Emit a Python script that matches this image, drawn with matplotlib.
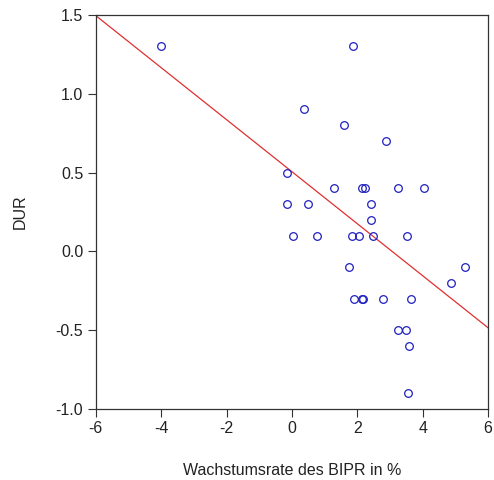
import numpy as np
import matplotlib.pyplot as plt

plt.rcParams['font.family'] = ['Liberation Sans', 'DejaVu Sans']
plt.rcParams['axes.unicode_minus'] = False

# Wachstumsrate des BIPR in % vs. DUR
bipr = [-4.0, 1.88, 0.36, 1.6, 2.89, -0.16,
        1.29, 2.13, 2.23, 3.23, 4.03,
        -0.16, 0.49, 2.41, 2.41,
        0.04, 0.77, 1.85, 2.06, 2.48, 3.51,
        1.74, 5.28, 4.86,
        1.91, 2.13, 2.16, 2.79, 3.64,
        3.23, 3.49, 3.58, 3.55]
dur = [1.3, 1.3, 0.9, 0.8, 0.7, 0.5,
       0.4, 0.4, 0.4, 0.4, 0.4,
       0.3, 0.3, 0.3, 0.2,
       0.1, 0.1, 0.1, 0.1, 0.1, 0.1,
       -0.1, -0.1, -0.2,
       -0.3, -0.3, -0.3, -0.3, -0.3,
       -0.5, -0.5, -0.6, -0.9]

# Regressionsgerade
fit_intercept = 0.505
fit_slope = -0.165

x_ticks = [-6, -4, -2, 0, 2, 4, 6]
y_ticks = [-1.0, -0.5, 0.0, 0.5, 1.0, 1.5]

fig = plt.figure(figsize=(4.94, 4.8), dpi=100)
ax = fig.add_axes([0.194, 0.148, 0.794, 0.821])

xs = np.array([-6, 6])
ax.plot(xs, fit_intercept + fit_slope * xs, color='#e03030', linewidth=0.9)
ax.plot(bipr, dur, linestyle='none', marker='o', markersize=5.5,
        markerfacecolor='none', markeredgecolor='#2020c0', markeredgewidth=0.9)

ax.set_xlim(-6, 6)
ax.set_ylim(-1.0, 1.5)
ax.set_xticks(x_ticks)
ax.set_yticks(y_ticks)
ax.set_yticklabels([f'{v:.1f}' for v in y_ticks])
ax.tick_params(direction='out', length=6, width=0.8, labelsize=11.5, colors='#333333',
               labelcolor='#222222', pad=3)
for s in ax.spines.values():
    s.set_color('#333333')
    s.set_linewidth(0.9)

ax.set_xlabel('Wachstumsrate des BIPR in %', fontsize=11.5, color='#222222', labelpad=19)
ax.set_ylabel('DUR', fontsize=11.5, color='#222222', labelpad=20)

fig.savefig('out.png', dpi=100)
